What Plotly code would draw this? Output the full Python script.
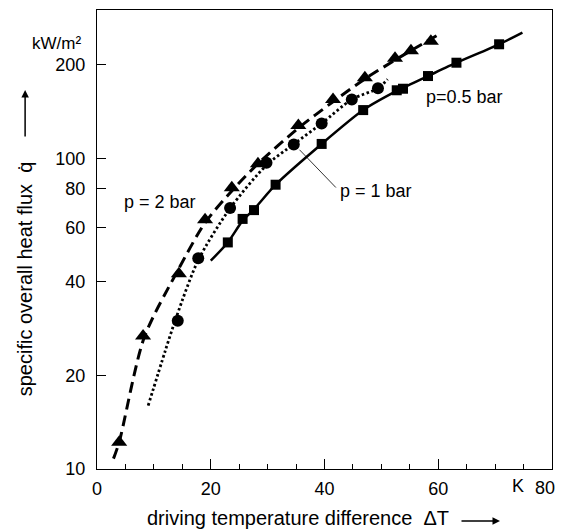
import math
import plotly.graph_objects as go

# ---- data ----
# p = 2 bar (triangles, dashed curve)
dt_2bar = [3.9, 8.1, 14.4, 19.0, 23.7, 28.3, 35.4, 41.5, 47.1, 52.4, 55.2, 58.7]
q_2bar = [12.2, 26.8, 42.5, 63.4, 80.4, 96.0, 127.5, 154.5, 181.5, 209.7, 222.0, 238.0]
curve_2bar_dt = [2.9, 3.9, 8.3, 14.2, 19.0, 23.7, 28.3, 35.4, 41.5, 47.1, 52.4, 55.2, 59.7]
curve_2bar_q = [10.8, 12.2, 26.5, 43.5, 62.0, 78.5, 96.0, 125.0, 152.0, 180.0, 207.0, 222.0, 248.0]

# p = 1 bar (circles, dotted curve)
dt_1bar = [14.2, 17.8, 23.4, 29.8, 34.6, 39.5, 44.8, 49.4]
q_1bar = [30.0, 47.7, 69.2, 96.8, 110.7, 129.4, 154.6, 168.0]
curve_1bar_dt = [9.0, 12.0, 14.0, 17.8, 23.4, 29.8, 34.6, 39.5, 44.8, 49.4, 51.1]
curve_1bar_q = [16.0, 24.0, 31.0, 47.0, 69.0, 95.0, 111.0, 129.4, 154.6, 168.0, 179.5]

# p = 0.5 bar (squares, solid curve)
dt_05bar = [23.0, 25.6, 27.6, 31.4, 39.5, 46.8, 52.7, 53.8, 58.2, 63.2, 70.7]
q_05bar = [53.6, 63.8, 68.1, 82.2, 111.2, 142.9, 165.5, 167.4, 183.9, 203.0, 232.7]
curve_05bar_dt = [20.0, 23.0, 25.6, 27.6, 31.4, 39.5, 46.8, 53.2, 58.2, 63.2, 70.7, 74.8]
curve_05bar_q = [46.8, 53.6, 63.0, 68.5, 82.2, 111.2, 142.9, 166.5, 183.9, 203.0, 232.7, 253.8]

# leader line for the "p = 1 bar" label
leader_dt = [35.6, 42.0]
leader_q = [106.5, 80.5]

x_tickvals = [0, 20, 40, 60, 80]
x_ticktext = ["0", "20", "40", "60", ""]
y_tickvals = [10, 20, 40, 60, 80, 100, 200]
y_ticktext = ["10", "20", "40", "60", "80", "100", "200"]

FONT = "Arial, Liberation Sans, sans-serif"

fig = go.Figure()

fig.add_trace(go.Scatter(x=curve_2bar_dt, y=curve_2bar_q, mode="lines",
                         line=dict(color="black", width=3, dash="11px,6px", shape="spline", smoothing=0.8),
                         hoverinfo="skip", showlegend=False))
fig.add_trace(go.Scatter(x=curve_1bar_dt, y=curve_1bar_q, mode="lines",
                         line=dict(color="black", width=2.8, dash="2.5px,2.5px", shape="spline", smoothing=0.8),
                         hoverinfo="skip", showlegend=False))
fig.add_trace(go.Scatter(x=curve_05bar_dt, y=curve_05bar_q, mode="lines",
                         line=dict(color="black", width=2.5, shape="spline", smoothing=0.6),
                         hoverinfo="skip", showlegend=False))
fig.add_trace(go.Scatter(x=leader_dt, y=leader_q, mode="lines",
                         line=dict(color="black", width=0.8),
                         hoverinfo="skip", showlegend=False))

fig.add_trace(go.Scatter(x=dt_2bar, y=q_2bar, mode="markers", name="p = 2 bar",
                         marker=dict(symbol="triangle-up", size=14, color="black"), showlegend=False))
fig.add_trace(go.Scatter(x=dt_1bar, y=q_1bar, mode="markers", name="p = 1 bar",
                         marker=dict(symbol="circle", size=12, color="black"), showlegend=False))
fig.add_trace(go.Scatter(x=dt_05bar, y=q_05bar, mode="markers", name="p = 0.5 bar",
                         marker=dict(symbol="square", size=10, color="black"), showlegend=False))

tickfont = dict(family=FONT, size=18, color="black")
lbl = dict(family=FONT, size=18, color="black")
ttl = dict(family=FONT, size=20, color="black")

annotations = [
    dict(x=11.1, y=math.log10(72.4), xref="x", yref="y", text="p = 2 bar", showarrow=False,
         xanchor="center", yanchor="middle", font=lbl),
    dict(x=64.7, y=math.log10(158), xref="x", yref="y", text="p=0.5 bar", showarrow=False,
         xanchor="center", yanchor="middle", font=lbl),
    dict(x=42.3, y=math.log10(78.7), xref="x", yref="y", text="p = 1 bar", showarrow=False,
         xanchor="left", yanchor="middle", font=lbl),
    dict(x=0, y=0.928, xref="paper", yref="paper", text="kW/m²", showarrow=False,
         xanchor="right", yanchor="middle", xshift=-14, font=dict(family=FONT, size=17, color="black")),
    dict(x=74.0, y=-0.038, xref="x", yref="paper", text="K", showarrow=False,
         xanchor="center", yanchor="middle", font=tickfont),
    dict(x=78.7, y=-0.042, xref="x", yref="paper", text="80", showarrow=False,
         xanchor="center", yanchor="middle", font=tickfont),
    dict(x=0.4407, y=-0.1075, xref="paper", yref="paper", text="driving temperature difference  ΔT",
         showarrow=False, xanchor="center", yanchor="middle", font=ttl),
    dict(x=0.8857, y=-0.1135, xref="paper", yref="paper", text="", showarrow=True,
         ax=-40, ay=0, arrowhead=2, arrowsize=1, arrowwidth=1.5, arrowcolor="black"),
    dict(x=-0.158, y=0.4136, xref="paper", yref="paper", text="specific overall heat flux  q̇",
         textangle=-90, showarrow=False, xanchor="center", yanchor="middle", font=ttl),
    dict(x=-0.158, y=0.8256, xref="paper", yref="paper", text="", showarrow=True,
         ax=0, ay=48, arrowhead=2, arrowsize=1, arrowwidth=1.5, arrowcolor="black"),
]

fig.update_layout(
    width=572, height=531,
    margin=dict(l=97, r=20, t=10, b=62),
    paper_bgcolor="white", plot_bgcolor="white",
    font=dict(family=FONT, color="black"),
    annotations=annotations,
    xaxis=dict(range=[0, 80], tickvals=x_tickvals, ticktext=x_ticktext,
               ticks="inside", ticklen=10, tickwidth=1.2, tickcolor="black",
               minor=dict(dtick=5, ticks="inside", ticklen=5, tickwidth=1, tickcolor="black"),
               showgrid=False, zeroline=False, showline=True, linecolor="black", linewidth=1.3,
               mirror=True, tickfont=tickfont, ticklabelstandoff=3, automargin=False),
    yaxis=dict(type="log", range=[1, math.log10(300)], tickvals=y_tickvals, ticktext=y_ticktext,
               ticks="inside", ticklen=9, tickwidth=1.2, tickcolor="black",
               showgrid=False, zeroline=False, showline=True, linecolor="black", linewidth=1.3,
               mirror=True, tickfont=tickfont, ticklabelstandoff=7, automargin=False),
)

fig.write_html("out.html", config={"displayModeBar": False},
               post_script="document.body.style.margin='0';document.body.style.overflow='hidden';")
